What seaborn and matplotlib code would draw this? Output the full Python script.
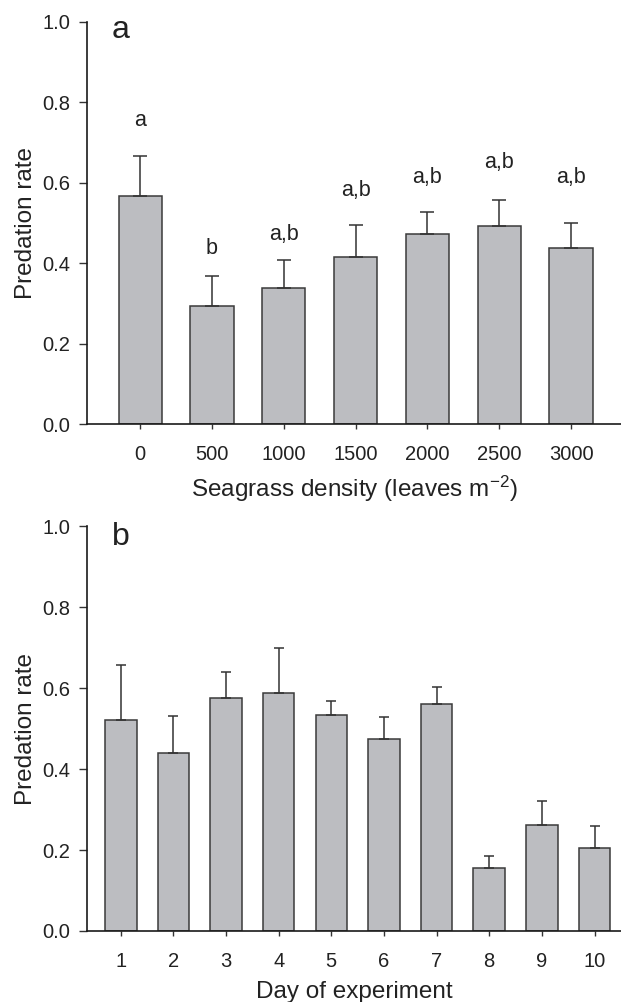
import matplotlib
matplotlib.use("Agg")
import matplotlib.pyplot as plt
import seaborn as sns
import numpy as np
import pandas as pd

# ---- data ----
density_labels = ["0", "500", "1000", "1500", "2000", "2500", "3000"]
density_mean = [0.567, 0.294, 0.339, 0.415, 0.472, 0.493, 0.437]
density_upper = [0.667, 0.368, 0.408, 0.494, 0.528, 0.558, 0.499]
density_letters = ["a", "b", "a,b", "a,b", "a,b", "a,b", "a,b"]
letter_y = [0.742, 0.422, 0.458, 0.566, 0.600, 0.636, 0.600]

day_labels = ["1", "2", "3", "4", "5", "6", "7", "8", "9", "10"]
day_mean = [0.522, 0.439, 0.577, 0.589, 0.533, 0.475, 0.560, 0.156, 0.262, 0.204]
day_upper = [0.658, 0.531, 0.639, 0.699, 0.568, 0.528, 0.602, 0.185, 0.321, 0.260]

yticks = [0.0, 0.2, 0.4, 0.6, 0.8, 1.0]

sns.set_style("ticks")
plt.rcParams["font.family"] = ["Liberation Sans", "DejaVu Sans"]
plt.rcParams["mathtext.fontset"] = "custom"
plt.rcParams["mathtext.rm"] = "Liberation Sans"
plt.rcParams["mathtext.it"] = "Liberation Sans:italic"
plt.rcParams["mathtext.bf"] = "Liberation Sans:bold"

TXT = "#222222"
BAR = "#bcbdc1"
EDGE = "#3a3a3a"

fig = plt.figure(figsize=(6.21, 10.02), dpi=100)
ax1 = fig.add_axes([0.140, 0.5766, 0.860, 0.4016])
ax2 = fig.add_axes([0.140, 0.0709, 0.860, 0.4037])


def draw(ax, labels, mean, upper, capsize, xlim):
    df = pd.DataFrame({"cat": labels, "val": mean})
    sns.barplot(data=df, x="cat", y="val", order=labels, ax=ax, color=BAR,
                saturation=1, width=0.6, edgecolor=EDGE, linewidth=1.1,
                errorbar=None)
    x = np.arange(len(labels))
    m = np.array(mean)
    u = np.array(upper)
    ax.errorbar(x, m, yerr=[np.zeros_like(m), u - m], fmt="none",
                ecolor="#333333", elinewidth=1.1, capsize=capsize,
                capthick=1.1, zorder=1)
    ax.set_ylim(0, 1.0)
    ax.set_xlim(*xlim)
    ax.set_yticks(yticks)
    ax.set_yticklabels([f"{t:.1f}" for t in yticks])
    sns.despine(ax=ax)
    for s in ["left", "bottom"]:
        ax.spines[s].set_linewidth(1.2)
        ax.spines[s].set_color("#1a1a1a")
    ax.tick_params(axis="y", length=5.5, width=1, color="#333333",
                   labelsize=14.5, pad=6.5, labelcolor=TXT)
    ax.tick_params(axis="x", length=3.5, width=1, color="#333333",
                   labelsize=14.5, pad=11.5, labelcolor=TXT)
    ax.set_ylabel("Predation rate", fontsize=17.5, color=TXT, labelpad=4)


draw(ax1, density_labels, density_mean, density_upper, 5.3, (-0.742, 6.696))
draw(ax2, day_labels, day_mean, day_upper, 3.9, (-0.642, 9.503))

ax1.set_xlabel(r"Seagrass density (leaves m$^{\mathregular{-2}}$)",
               fontsize=17.5, color=TXT, labelpad=7)
ax2.set_xlabel("Day of experiment", fontsize=17.5, color=TXT, labelpad=7)

for i, (lt, ly) in enumerate(zip(density_letters, letter_y)):
    ax1.text(i, ly, lt, ha="center", va="baseline", fontsize=15.5, color=TXT)

ax1.text(-0.40, 0.96, "a", ha="left", va="baseline", fontsize=23, color=TXT)
ax2.text(-0.17, 0.954, "b", ha="left", va="baseline", fontsize=23, color=TXT)

fig.savefig("out.png", dpi=100)
